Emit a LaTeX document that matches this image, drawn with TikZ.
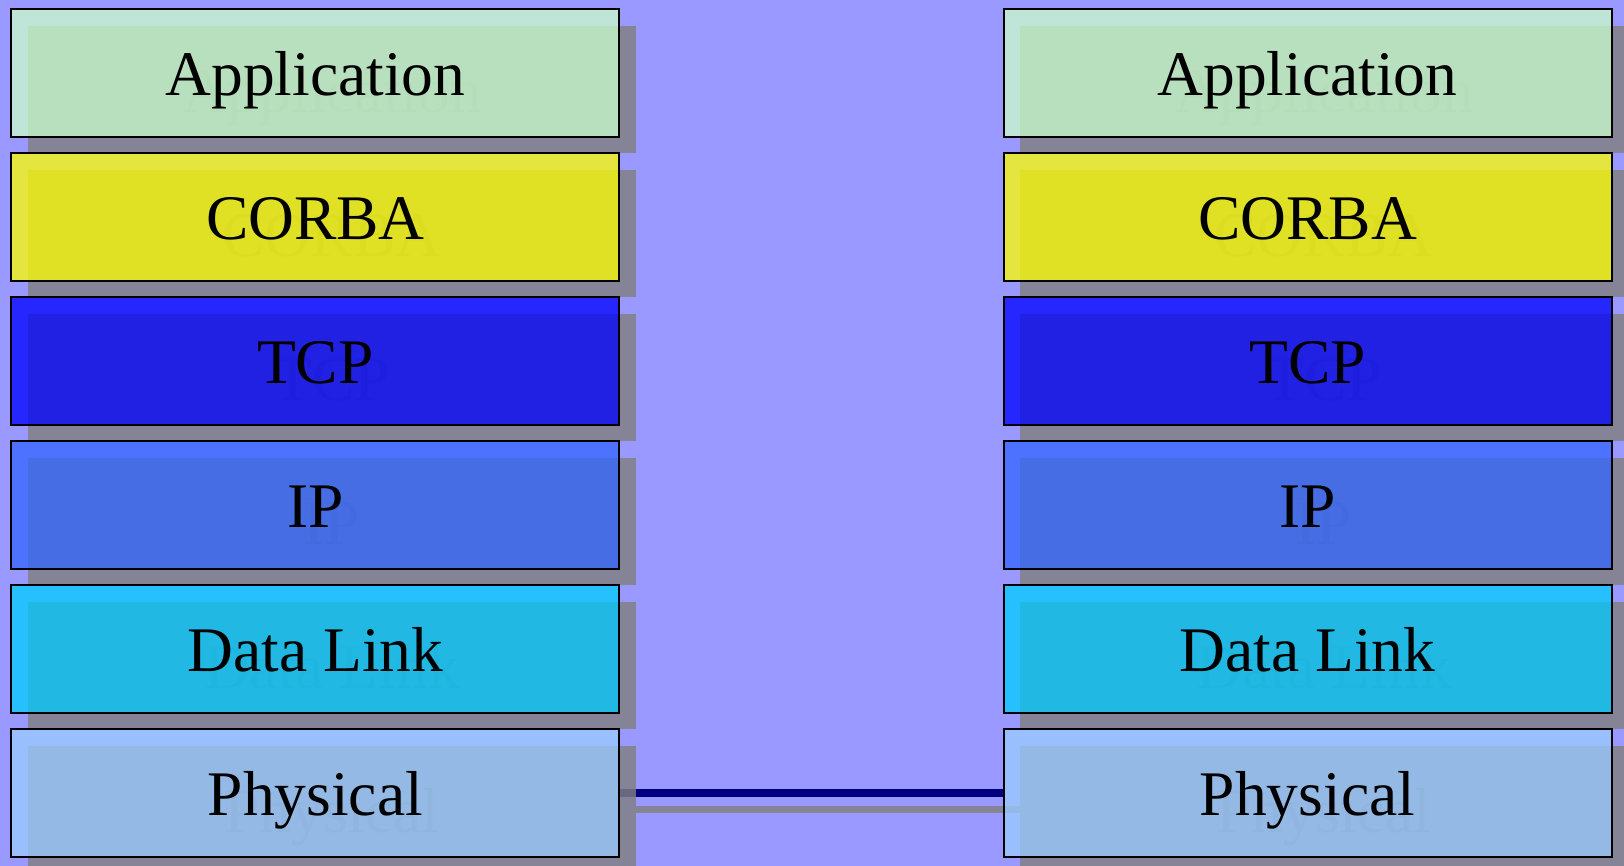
\documentclass[tikz,border=0pt]{standalone}
\usepackage{fontspec}
\setmainfont{Liberation Serif}
\definecolor{bgc}{RGB}{153,153,255}
\definecolor{appc}{RGB}{204,255,204}
\definecolor{corbac}{RGB}{255,255,0}
\definecolor{tcpc}{RGB}{0,0,255}
\definecolor{ipc}{RGB}{51,102,255}
\definecolor{dlc}{RGB}{0,204,255}
\definecolor{phc}{RGB}{153,204,255}
\definecolor{shc}{RGB}{128,128,128}
\definecolor{shtc}{RGB}{118,118,126}
\definecolor{navyc}{RGB}{0,0,128}
\pgfdeclarelayer{bglayer}
\pgfdeclarelayer{linelayer}
\pgfdeclarelayer{shadlayer}
\pgfsetlayers{bglayer,linelayer,shadlayer,main}
\begin{document}
\begin{tikzpicture}[x=1pt,y=-1pt,
  layerbox/.style={draw=black, line width=2pt, outer sep=0pt, fill opacity=0.75, text opacity=1,
    minimum width=608pt, minimum height=127.5pt, inner sep=0pt, text height=45.5pt, text depth=0pt,
    anchor=north west, font=\fontsize{63.5}{72}\selectfont},
  shadowtext/.style={outer sep=0pt, inner sep=0pt, minimum width=608pt, minimum height=127.5pt,
    text height=45.5pt, text depth=0pt, anchor=north west, font=\fontsize{63.5}{72}\selectfont,
    text=shtc, text opacity=0.82},
  shadowfill/.style={fill=shc, opacity=0.82},
  shadowline/.style={draw=shc, opacity=0.82, line width=7.5pt},
  wire/.style={draw=navyc, line width=7.5pt}]
\useasboundingbox (0,0) rectangle (1624,866);
\begin{pgfonlayer}{bglayer}
  \fill[bgc] (0,0) rectangle (1624,866);
\end{pgfonlayer}
\foreach \i/\t/\c in {0/Application/appc, 1/CORBA/corbac, 2/TCP/tcpc, 3/IP/ipc, 4/Data Link/dlc, 5/Physical/phc}{
  \pgfmathsetmacro{\yy}{9.3+144*\i}
  \node[layerbox, fill=\c] (L\i) at (11.4,\yy) {\t};
  \node[layerbox, fill=\c] (R\i) at (1003.5,\yy) {\t};
  \begin{pgfonlayer}{shadlayer}
    \fill[shadowfill] ([shift={(16.5,16.5)}]L\i.north west) rectangle ([shift={(16.5,16.5)}]L\i.south east);
    \fill[shadowfill] ([shift={(16.5,16.5)}]R\i.north west) rectangle ([shift={(16.5,16.5)}]R\i.south east);
    \node[shadowtext] (LS\i) at ([shift={(16.5,16.5)}]L\i.north west) {\t};
    \node[shadowtext] (RS\i) at ([shift={(16.5,16.5)}]R\i.north west) {\t};
  \end{pgfonlayer}
}
\begin{pgfonlayer}{linelayer}
  \draw[wire] (L5.east) -- (R5.west);
\end{pgfonlayer}
\begin{pgfonlayer}{shadlayer}
  \draw[shadowline] ([shift={(16.5,16.5)}]L5.east) -- ([shift={(16.5,16.5)}]R5.west);
\end{pgfonlayer}
\end{tikzpicture}
\end{document}
